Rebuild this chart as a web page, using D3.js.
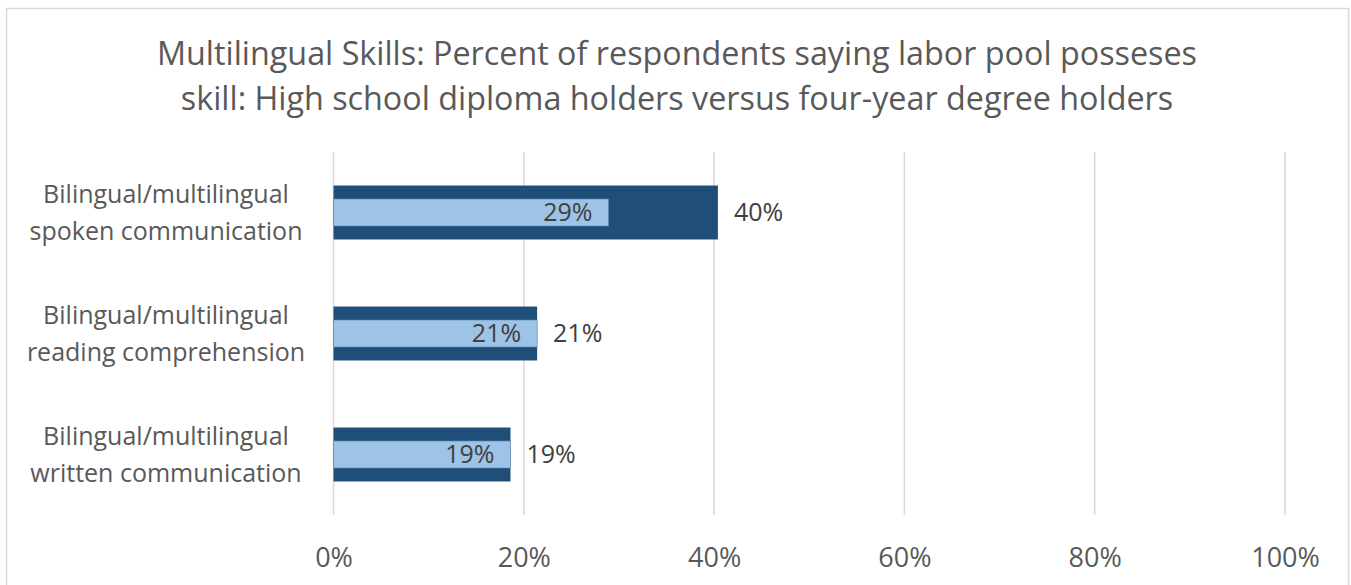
<!DOCTYPE html>
<html>
<head>
<meta charset="utf-8">
<script src="https://cdn.jsdelivr.net/npm/d3@7"></script>
<style>
  body { margin: 0; background: #fff; }
  svg { display: block; font-family: "Open Sans", sans-serif; }
</style>
</head>
<body>
<div id="canvas"></div>
<script>
//chart data
var categories = [
  ['Bilingual/multilingual', 'spoken communication'],
  ['Bilingual/multilingual', 'reading comprehension'],
  ['Bilingual/multilingual', 'written communication']
];
var degreeValues = [0.404, 0.214, 0.186];   //four-year degree holders (dark, wide)
var diplomaValues = [0.289, 0.214, 0.186];  //high school diploma holders (light, narrow)
var degreeLabels = ['40%', '21%', '19%'];
var diplomaLabels = ['29%', '21%', '19%'];
var xTicks = [0, 0.2, 0.4, 0.6, 0.8, 1.0];
var titleLines = [
  'Multilingual Skills: Percent of respondents saying labor pool posseses',
  'skill: High school diploma holders versus four-year degree holders'
];

var cv = {
  'width': 1351,
  'height': 585,
  'plotLeft': 333.5,
  'plotRight': 1285,
  'plotTop': 152,
  'plotBottom': 515
};

var svg = d3.select('#canvas').append('svg')
  .attr('width', cv.width)
  .attr('height', cv.height);

//chart area border
svg.append('rect')
  .attr('x', 6.5)
  .attr('y', 8.5)
  .attr('width', 1342)
  .attr('height', 600)
  .attr('fill', '#fff')
  .attr('stroke', '#d9d9d9')
  .attr('stroke-width', 1.5);

//scales
var x = d3.scaleLinear()
  .domain([0, 1])
  .range([cv.plotLeft, cv.plotRight]);

var y = d3.scaleBand()
  .domain(d3.range(categories.length))
  .range([cv.plotTop, cv.plotBottom])
  .paddingInner(0.554)
  .paddingOuter(0.277);

//title
svg.append('text')
  .attr('x', 677)
  .attr('y', 65)
  .attr('text-anchor', 'middle')
  .attr('fill', '#595959')
  .attr('font-size', 32.3)
  .selectAll('tspan')
  .data(titleLines)
  .enter().append('tspan')
  .attr('x', 677)
  .attr('dy', (d, i) => i === 0 ? 0 : 45)
  .text(d => d);

//gridlines
svg.selectAll('.grid')
  .data(xTicks)
  .enter().append('line')
  .attr('class', 'grid')
  .attr('x1', d => x(d))
  .attr('x2', d => x(d))
  .attr('y1', cv.plotTop)
  .attr('y2', cv.plotBottom)
  .attr('stroke', '#d9d9d9')
  .attr('stroke-width', 1.5);

//x axis tick labels
var xAxis = d3.axisBottom(x)
  .tickValues(xTicks)
  .tickFormat(d3.format('.0%'))
  .tickSize(0)
  .tickPadding(0);

var gx = svg.append('g')
  .attr('transform', 'translate(0,' + 545 + ')')
  .call(xAxis);
gx.select('.domain').remove();
gx.selectAll('text')
  .attr('font-size', 27)
  .attr('font-family', '"Open Sans", sans-serif')
  .attr('fill', '#595959')
  .attr('dy', '0.8em');

//category labels
var catLabel = svg.selectAll('.cat')
  .data(categories)
  .enter().append('text')
  .attr('class', 'cat')
  .attr('text-anchor', 'middle')
  .attr('fill', '#595959')
  .attr('font-size', 25);

catLabel.selectAll('tspan')
  .data(d => d)
  .enter().append('tspan')
  .attr('x', 166)
  .attr('y', function(d, i) {
    var idx = categories.indexOf(d3.select(this.parentNode).datum());
    return y(idx) + y.bandwidth() / 2 - 10 + i * 37;
  })
  .text(d => d);

//four-year degree bars (dark, wide)
svg.selectAll('.degree')
  .data(degreeValues)
  .enter().append('rect')
  .attr('class', 'degree')
  .attr('x', x(0))
  .attr('y', (d, i) => y(i))
  .attr('width', d => x(d) - x(0))
  .attr('height', y.bandwidth())
  .attr('fill', '#1f4e79');

//high school diploma bars (light, narrow)
svg.selectAll('.diploma')
  .data(diplomaValues)
  .enter().append('rect')
  .attr('class', 'diploma')
  .attr('x', x(0))
  .attr('y', (d, i) => y(i) + y.bandwidth() / 4)
  .attr('width', d => x(d) - x(0))
  .attr('height', y.bandwidth() / 2)
  .attr('fill', '#9dc3e6')
  .attr('stroke', '#5b87b5')
  .attr('stroke-width', 0.6);

//data labels
svg.selectAll('.degreeLabel')
  .data(degreeValues)
  .enter().append('text')
  .attr('class', 'degreeLabel')
  .attr('x', d => x(d) + 16)
  .attr('y', (d, i) => y(i) + y.bandwidth() / 2)
  .attr('dy', '0.35em')
  .attr('fill', '#404040')
  .attr('font-size', 25)
  .text((d, i) => degreeLabels[i]);

svg.selectAll('.diplomaLabel')
  .data(diplomaValues)
  .enter().append('text')
  .attr('class', 'diplomaLabel')
  .attr('x', d => x(d) - 16)
  .attr('y', (d, i) => y(i) + y.bandwidth() / 2)
  .attr('dy', '0.35em')
  .attr('text-anchor', 'end')
  .attr('fill', '#404040')
  .attr('font-size', 25)
  .text((d, i) => diplomaLabels[i]);
</script>
</body>
</html>
